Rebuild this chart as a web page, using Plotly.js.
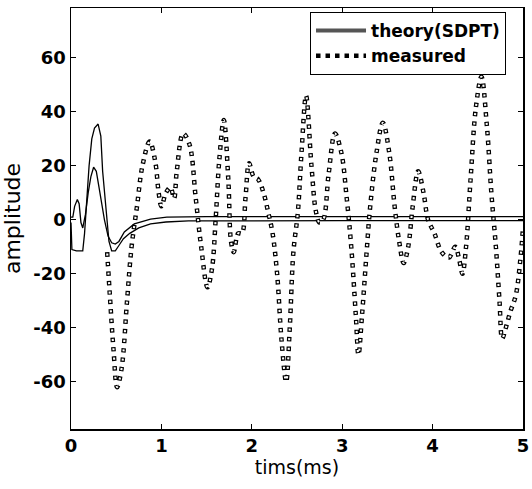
<!DOCTYPE html>
<html>
<head>
<meta charset="utf-8">
<script src="https://cdn.plot.ly/plotly-3.0.1.min.js"></script>
<style>html,body{margin:0;padding:0;background:#fff}#chart{width:532px;height:489px}</style>
</head>
<body>
<div id="chart"></div>
<script>
// theory (SDPT) – drawn as a double (hollow) line: outer and inner edges
const theoryOuterTime = [0,0.01,0.06,0.13,0.15,0.17,0.20,0.23,0.26,0.30,0.33,0.35,0.37,0.39,0.42,0.45,0.49,0.53,0.58,0.65,0.75,0.88,1.05,1.3,2,3,4,5];
const theoryOuter     = [-1,-11,-11.5,-11.5,-5,6,20,30,34,35.5,31,18,10,3,-8,-11.5,-11.5,-9.5,-7,-5,-3,-1.5,-0.8,-0.4,-0.3,-0.3,-0.3,-0.3];
const theoryInnerTime = [0,0.02,0.04,0.07,0.09,0.11,0.13,0.16,0.19,0.22,0.25,0.28,0.31,0.34,0.37,0.41,0.45,0.49,0.53,0.59,0.70,0.88,1.06,1.5,2,3,4,5];
const theoryInner     = [1,1,5,7.5,6,-1,-3,2,10,16,19.5,18,12,6,0,-6,-8.5,-9,-8,-4.5,-1.5,0.3,1,1.2,1.2,1.2,1.2,1.2];

// measured
const measuredTime = [0.40,0.43,0.47,0.51,0.56,0.62,0.67,0.73,0.79,0.87,0.93,0.97,1.00,1.05,1.10,1.14,1.17,1.24,1.31,1.38,1.44,1.51,1.56,1.60,1.64,1.69,1.74,1.77,1.80,1.85,1.89,1.93,1.97,2.02,2.07,2.13,2.18,2.23,2.28,2.33,2.38,2.42,2.46,2.51,2.55,2.60,2.66,2.71,2.75,2.79,2.85,2.92,2.99,3.05,3.10,3.15,3.18,3.22,3.27,3.31,3.38,3.45,3.52,3.58,3.63,3.68,3.73,3.78,3.84,3.90,3.95,4.02,4.10,4.18,4.25,4.29,4.33,4.37,4.42,4.48,4.54,4.60,4.65,4.70,4.74,4.77,4.81,4.86,4.92,4.97,5.00];
const measuredAmp  = [-12,-28,-48,-62,-55,-30,-10,5,20,29,22,10,5,10,12,8,18,32,28,8,-10,-25,-18,0,22,37,15,-8,-12,-5,-5,8,21,16,15,10,3,-5,-20,-45,-60,-40,-12,3,25,46,20,3,-1,0,17,32,25,8,-10,-35,-50,-35,-12,5,25,36,25,5,-8,-16,-10,5,18,10,0,-5,-12,-14,-10,-14,-20,-10,15,42,53,35,10,-10,-30,-44,-40,-34,-28,-15,-3];

const xTicks = [0,1,2,3,4,5];
const yTicks = [-60,-40,-20,0,20,40,60];

const FONT = 'DejaVu Sans, sans-serif';

const data = [
  {x: theoryOuterTime, y: theoryOuter, mode: 'lines', line: {color: 'black', width: 1.3}, showlegend: false, hoverinfo: 'skip'},
  {x: theoryInnerTime, y: theoryInner, mode: 'lines', line: {color: 'black', width: 1.3}, showlegend: false, hoverinfo: 'skip'},
  {x: [null], y: [null], mode: 'lines', name: 'theory(SDPT)', line: {color: '#555', width: 4}},
  {x: measuredTime, y: measuredAmp, mode: 'lines', name: 'measured',
   line: {color: 'black', width: 4.5, dash: '4.5px,5px', shape: 'spline', smoothing: 1}},
  {x: measuredTime, y: measuredAmp, mode: 'lines', showlegend: false, hoverinfo: 'skip',
   line: {color: 'white', width: 2.1, dash: '0px,1.2px,2.1px,6.2px', shape: 'spline', smoothing: 1}}
];

const axisCommon = {
  ticks: 'inside', ticklen: 5, tickwidth: 1, tickcolor: 'black',
  showline: true, linecolor: 'black', linewidth: 1.5, mirror: 'ticks',
  showgrid: false, zeroline: false,
  tickfont: {family: FONT, size: 18, weight: 'bold', color: 'black'}
};

const layout = {
  width: 532, height: 489,
  margin: {l: 71, r: 9, t: 8, b: 60},
  paper_bgcolor: 'white', plot_bgcolor: 'white',
  xaxis: Object.assign({}, axisCommon, {
    range: [0, 5], tickvals: xTicks, ticktext: xTicks.map(String),
    title: {text: 'tims(ms)', font: {family: FONT, size: 19, color: 'black'}, standoff: 4}
  }),
  yaxis: Object.assign({}, axisCommon, {
    range: [-77.5, 78.5], tickvals: yTicks, ticktext: yTicks.map(String),
    title: {text: 'amplitude', font: {family: FONT, size: 22, color: 'black'}, standoff: 6}
  }),
  showlegend: true,
  legend: {
    x: 0.5288, y: 0.9905, xanchor: 'left', yanchor: 'top',
    bgcolor: 'white', bordercolor: 'black', borderwidth: 1,
    font: {family: FONT, size: 17, weight: 'bold', color: 'black'},
    itemwidth: 50,
    tracegroupgap: 0
  }
};

Plotly.newPlot('chart', data, layout, {staticPlot: true, displayModeBar: false});
</script>
</body>
</html>
